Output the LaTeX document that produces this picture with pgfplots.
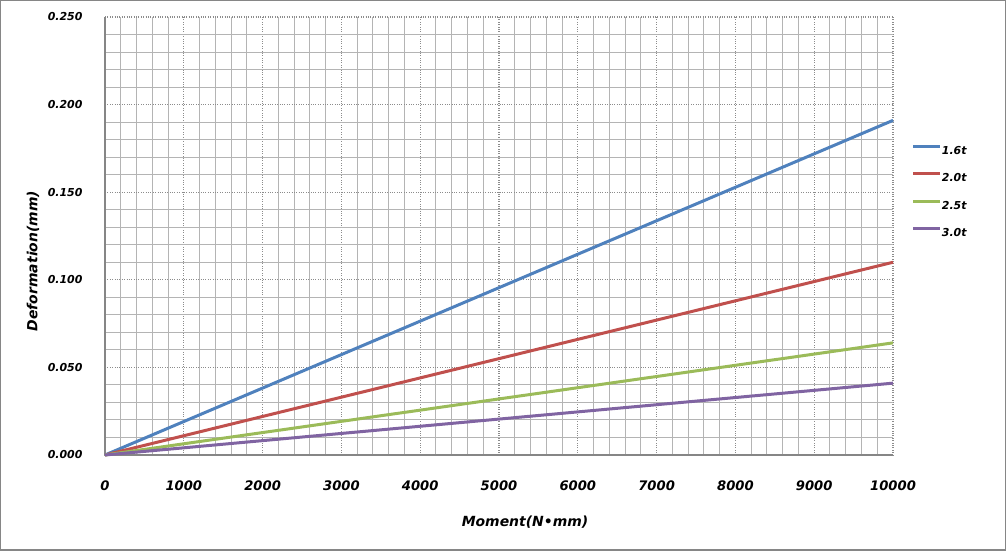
\documentclass[border=0pt]{standalone}
\usepackage{fontspec}
\setmainfont{DejaVu Sans}
\usepackage{pgfplots}
\pgfplotsset{compat=1.18}
\definecolor{cblue}{HTML}{4F81BD}
\definecolor{cred}{HTML}{C0504D}
\definecolor{cgreen}{HTML}{9BBB59}
\definecolor{cpurple}{HTML}{8064A2}
\definecolor{gridminor}{HTML}{B4B4B4}
\definecolor{gridmajor}{HTML}{8C8C8C}
\definecolor{axisgray}{HTML}{868686}
\begin{document}
\begin{tikzpicture}[x=1bp,y=1bp]
\draw[color=axisgray, line width=1.5bp] (0.75,0.75) rectangle (1005.25,550.25);
\begin{axis}[
  at={(105bp,96bp)}, anchor=south west,
  scale only axis, width=788bp, height=438bp,
  xmin=0, xmax=10000, ymin=0, ymax=0.25,
  xtick={0,1000,2000,3000,4000,5000,6000,7000,8000,9000,10000},
  ytick={0,0.05,0.1,0.15,0.2,0.25},
  scaled x ticks=false, scaled y ticks=false,
  minor x tick num=4, minor y tick num=4,
  grid=both,
  major grid style={dotted, color=gridmajor, line width=1.1bp},
  minor grid style={color=gridminor, line width=1bp},
  axis x line=bottom, axis y line=left,
  axis line style={-, color=axisgray, line width=1.3bp},
  major tick length=0pt, minor tick length=0pt,
  /pgf/number format/assume math mode=true,
  x tick label style={font=\fontsize{13.2}{15}\selectfont\bfseries\itshape, /pgf/number format/1000 sep={}, anchor=center, yshift=-31bp},
  y tick label style={font=\fontsize{11}{13}\selectfont\bfseries\itshape, /pgf/number format/fixed, /pgf/number format/fixed zerofill, /pgf/number format/precision=3, anchor=east, xshift=-19bp},
  xlabel={Moment(N•mm)},
  ylabel={Deformation(mm)},
  x label style={font=\fontsize{14}{16}\selectfont\bfseries\itshape, at={(axis description cs:0.533,0)}, anchor=center, yshift=-67bp},
  y label style={font=\fontsize{14}{16}\selectfont\bfseries\itshape, at={(axis description cs:-0.0914,0.443)}, anchor=center},
  legend style={draw=none, fill=none, at={(axis description cs:1.024,0.708)}, anchor=north west, inner sep=0pt, outer sep=0pt,
    font=\fontsize{11}{13}\selectfont\bfseries\itshape,
    nodes={inner sep=0pt, text height=8bp, text depth=0pt},
    row sep=18bp, /tikz/every even column/.append style={column sep=3bp}},
  legend cell align=left,
  legend image code/.code={\draw[#1, line width=3bp] (0bp,4bp) -- (27bp,4bp);},
  every axis plot/.append style={line width=3bp, no markers},
  clip=false,
]
\addplot[cblue] coordinates {(0,0) (1000,0.0191) (2000,0.0382) (3000,0.0573) (4000,0.0764) (5000,0.0955) (6000,0.1146) (7000,0.1337) (8000,0.1528) (9000,0.1719) (10000,0.191)};
\addlegendentry{1.6t}
\addplot[cred] coordinates {(0,0) (1000,0.011) (2000,0.022) (3000,0.033) (4000,0.044) (5000,0.055) (6000,0.066) (7000,0.077) (8000,0.088) (9000,0.099) (10000,0.110)};
\addlegendentry{2.0t}
\addplot[cgreen] coordinates {(0,0) (1000,0.0064) (2000,0.0128) (3000,0.0192) (4000,0.0256) (5000,0.032) (6000,0.0384) (7000,0.0448) (8000,0.0512) (9000,0.0576) (10000,0.064)};
\addlegendentry{2.5t}
\addplot[cpurple] coordinates {(0,0) (1000,0.0041) (2000,0.0082) (3000,0.0123) (4000,0.0164) (5000,0.0205) (6000,0.0246) (7000,0.0287) (8000,0.0328) (9000,0.0369) (10000,0.041)};
\addlegendentry{3.0t}
\end{axis}
\end{tikzpicture}
\end{document}
